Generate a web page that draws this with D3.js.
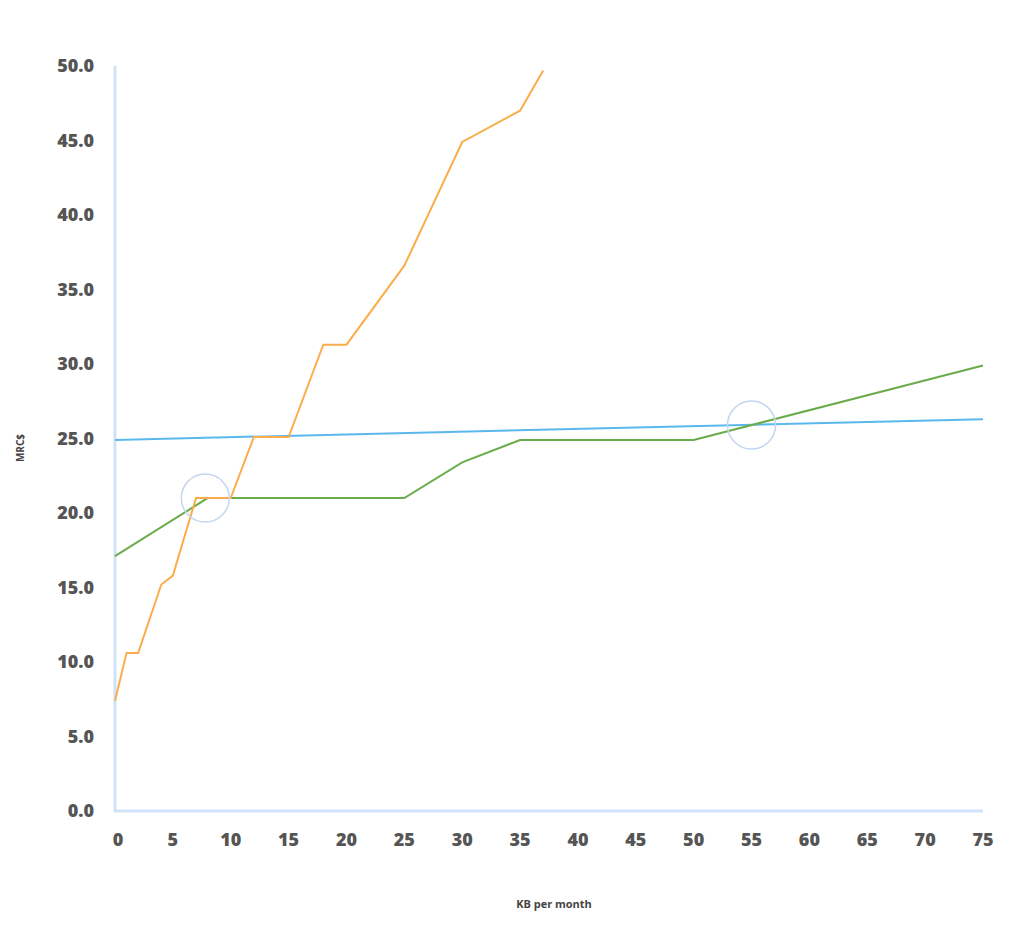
<!DOCTYPE html><html><head><script src="https://cdn.jsdelivr.net/npm/d3@7"></script>
<style>body{margin:0;background:#fff}text{font-family:"Open Sans",sans-serif}</style></head><body>
<svg id="c" width="1024" height="928"></svg>
<script>
const xTicks=[0,5,10,15,20,25,30,35,40,45,50,55,60,65,70,75];
const yTicks=[0,5,10,15,20,25,30,35,40,45,50];
const orangeX=[0,1,2,4,5,7,10,12,15,18,20,25,30,35,37];
const orangeY=[7.4,10.6,10.6,15.2,15.8,21.0,21.0,25.1,25.1,31.3,31.3,36.6,44.9,47.0,49.7];
const greenX=[0,8,25,30,35,50,75];
const greenY=[17.1,21.0,21.0,23.4,24.9,24.9,29.9];
const blueX=[0,75];
const blueY=[24.9,26.3];
const circleX=[7.8,55];
const circleY=[21.0,25.9];
const svg=d3.select("#c");
const x=d3.scaleLinear().domain([0,75]).range([115,983]);
const y=d3.scaleLinear().domain([0,50]).range([811,66]);
svg.append("line").attr("x1",115).attr("x2",115).attr("y1",66).attr("y2",812).attr("stroke","#cfe2f7").attr("stroke-width",3);
svg.append("line").attr("x1",114).attr("x2",983).attr("y1",811).attr("y2",811).attr("stroke","#cfe2f7").attr("stroke-width",3);
svg.selectAll(".yt").data(yTicks).join("text").attr("x",94).attr("y",d=>y(d)+6).attr("text-anchor","end")
 .attr("font-size",18).attr("font-weight",800).attr("fill","#555").text(d=>d.toFixed(1));
svg.selectAll(".xt").data(xTicks).join("text").attr("x",d=>x(d)+(d===0?3:0)).attr("y",846).attr("text-anchor","middle")
 .attr("font-size",18).attr("font-weight",800).attr("fill","#555").text(d=>d);
svg.append("text").attr("x",554).attr("y",908).attr("text-anchor","middle").attr("font-size",11).attr("font-weight",700).attr("fill","#444").text("KB per month");
svg.append("text").attr("transform","translate(24,448) rotate(-90)").attr("text-anchor","middle").attr("font-size",10).attr("font-weight",700).attr("fill","#444").text("MRC$");
const line=d3.line().x(d=>x(d[0])).y(d=>y(d[1]));
const draw=(xs,ys,c)=>svg.append("path").attr("d",line(xs.map((v,i)=>[v,ys[i]]))).attr("fill","none").attr("stroke",c).attr("stroke-width",2);
draw(blueX,blueY,"#5bb8ef");
draw(greenX,greenY,"#6aac4c");
draw(orangeX,orangeY,"#fbad4b");
svg.selectAll(".ci").data(circleX).join("circle").attr("cx",d=>x(d)).attr("cy",(d,i)=>y(circleY[i])).attr("r",24)
 .attr("fill","none").attr("stroke","#c5d6f0").attr("stroke-width",1.5);
</script></body></html>
